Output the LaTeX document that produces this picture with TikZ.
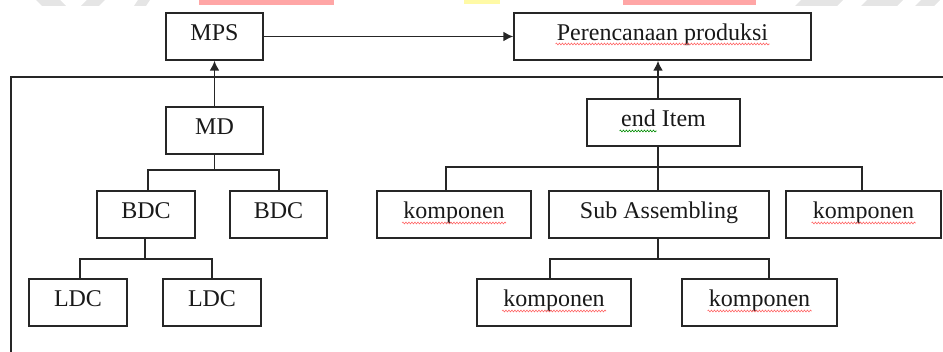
\documentclass[tikz,border=0pt]{standalone}
\usepackage{fontspec}
\setmainfont{Liberation Serif}
\usetikzlibrary{arrows.meta,decorations.pathmorphing}
\begin{document}
\begin{tikzpicture}[x=1pt,y=-1pt,
  box/.style={draw=black!85,line width=1.5pt,rectangle,minimum height=47pt,inner sep=0pt,
    text height=17pt,text depth=8pt,
    font=\fontsize{24}{28}\selectfont,text=black!90},
  conn/.style={draw=black!85,line width=1.6pt},
  arr/.style={conn,-{Latex[length=10pt,width=10pt]}},
  spell/.style={draw=red!60,line width=0.6pt,decorate,decoration={snake,segment length=3pt,amplitude=0.9pt}},
  grammar/.style={draw=green!55!black,line width=0.6pt,decorate,decoration={snake,segment length=3pt,amplitude=0.9pt}},
  wm/.style={fill=#1,draw=none}]
\useasboundingbox (0,0) rectangle (943,352);
% faint watermark at the top edge
\fill[wm=black!10] (36,0) -- (60,0) -- (66,6) -- (42,6) -- cycle;
\fill[wm=black!10] (87,0) -- (105,0) -- (99,6) -- (81,6) -- cycle;
\fill[wm=black!10] (138,0) -- (150,0) -- (146,6) -- (134,6) -- cycle;
\fill[wm=red!35] (199,0) rectangle (334,5);
\fill[wm=yellow!35] (464,0) rectangle (500,4);
\fill[wm=red!35] (623,0) rectangle (756,5);
\fill[wm=black!10] (801,0) -- (843,0) -- (837,6) -- (795,6) -- cycle;
\fill[wm=black!10] (867,0) -- (903,0) -- (897,6) -- (861,6) -- cycle;
\fill[wm=black!10] (921,0) -- (940,0) -- (934,6) -- (915,6) -- cycle;

% frame
\coordinate (fbl) at (11,352);
\coordinate (ftl) at (11,77);
\coordinate (ftr) at (943,77);
\draw[conn] (fbl) -- (ftl) -- (ftr);

% nodes
\node[box,minimum width=97pt]  (mps)  at (214.5,36.5) {MPS};
\node[box,minimum width=297pt] (plan) at (662.5,36.5) {Perencanaan produksi};
\node[box,minimum width=97pt]  (md)   at (214.5,130.5) {MD};
\node[box,minimum width=98pt]  (bdc1) at (146,214.5) {BDC};
\node[box,minimum width=97pt]  (bdc2) at (278.5,214.5) {BDC};
\node[box,minimum width=98pt]  (ldc1) at (78,302.5) {LDC};
\node[box,minimum width=98pt]  (ldc2) at (212,302.5) {LDC};
\node[box,minimum width=153pt] (end)  at (663.5,122.5) {end Item};
\node[box,minimum width=154pt] (k1)   at (454,214.5) {komponen};
\node[box,minimum width=220pt] (sub)  at (659,214.5) {Sub Assembling};
\node[box,minimum width=155pt] (k2)   at (863.5,214.5) {komponen};
\node[box,minimum width=154pt] (k3)   at (554,302.5) {komponen};
\node[box,minimum width=155pt] (k4)   at (759.5,302.5) {komponen};

% bus coordinates
\coordinate (busL1) at (0,170);
\coordinate (busL2) at (0,259);
\coordinate (busR1) at (0,167);
\coordinate (busR2) at (0,259);

% connectors
\draw[arr] (mps.east) -- (plan.west);
\draw[arr] (md.north) -- (mps.south);
\draw[arr] ([xshift=-5.5pt]end.north) -- ([xshift=-5.5pt]end.north |- plan.south);

\draw[conn] (md.south) -- (md.south |- busL1);
\draw[conn] ([xshift=2pt]bdc1.north) -- ([xshift=2pt]bdc1.north |- busL1) -- ([xshift=0.5pt]bdc2.north |- busL1) -- ([xshift=0.5pt]bdc2.north);
\draw[conn] ([xshift=-1pt]bdc1.south) -- ([xshift=-1pt]bdc1.south |- busL2);
\draw[conn] ([xshift=2pt]ldc1.north) -- ([xshift=2pt]ldc1.north |- busL2) -- (ldc2.north |- busL2) -- (ldc2.north);

\draw[conn] ([xshift=-5.5pt]end.south) -- ([xshift=-5.5pt]end.south |- busR1);
\draw[conn] ([xshift=-8pt]k1.north) -- ([xshift=-8pt]k1.north |- busR1) -- ([xshift=-1.5pt]k2.north |- busR1) -- ([xshift=-1.5pt]k2.north);
\draw[conn] ([xshift=-1pt]sub.north) -- ([xshift=-1pt]sub.north |- busR1);
\draw[conn] ([xshift=-1pt]sub.south) -- ([xshift=-1pt]sub.south |- busR2);
\draw[conn] ([xshift=-4pt]k3.north) -- ([xshift=-4pt]k3.north |- busR2) -- ([xshift=9.5pt]k4.north |- busR2) -- ([xshift=9.5pt]k4.north);

% spell-check underlines
\draw[spell] ([xshift=-107pt,yshift=-3pt]plan.base) -- ([xshift=107pt,yshift=-3pt]plan.base);
\draw[grammar] ([xshift=-44pt,yshift=-4pt]end.base) -- ([xshift=-7pt,yshift=-4pt]end.base);
\foreach \k in {k1,k2,k3,k4}{
  \draw[spell] ([xshift=-52pt,yshift=-4pt]\k.base) -- ([xshift=52pt,yshift=-4pt]\k.base);
}
\end{tikzpicture}
\end{document}
